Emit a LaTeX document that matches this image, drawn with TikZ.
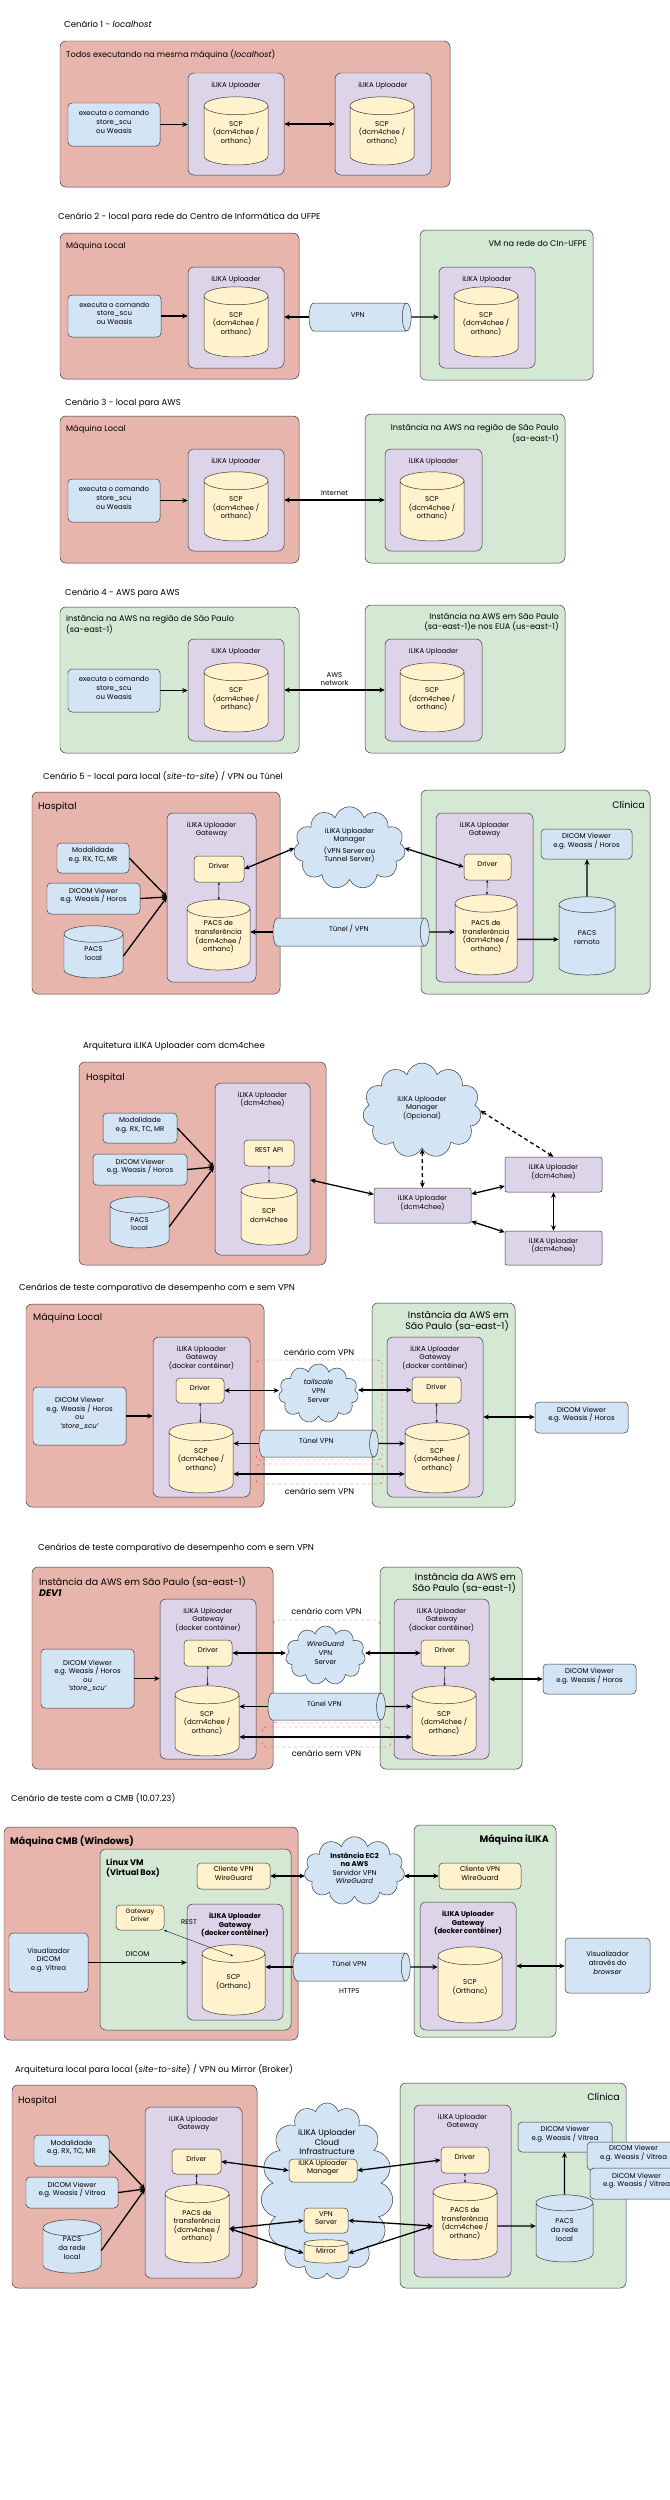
\documentclass[tikz,border=0pt]{standalone}
\usepackage{fontspec}
\setmainfont{Poppins}
\usepackage{tikz}
\usetikzlibrary{shapes.geometric, shapes.symbols, arrows.meta, positioning, fit}

\definecolor{zonered}{HTML}{E8B5AD}
\definecolor{zonegreen}{HTML}{D5E8D4}
\definecolor{clientblue}{HTML}{D3E4F5}
\definecolor{upviolet}{HTML}{DDD4EA}
\definecolor{modyellow}{HTML}{FFF2CC}
\definecolor{linegray}{HTML}{3A3A3A}

\newcommand{\fnttitle}{\fontsize{8.6}{10}\selectfont}
\newcommand{\fntzone}{\fontsize{8.2}{9.8}\selectfont}
\newcommand{\fntbig}{\fontsize{9.5}{11.4}\selectfont}
\newcommand{\fntbox}{\fontsize{7}{8.6}\selectfont}
\newcommand{\fntsmall}{\fontsize{6.4}{7.6}\selectfont}

\tikzstyle{title} = [anchor=west, inner sep=0pt, font=\fnttitle]
\tikzstyle{zonelabel} = [inner sep=0pt, font=\fntzone, align=left]
\tikzstyle{biglabel} = [inner sep=0pt, font=\fntbig, align=left]
\tikzstyle{uplabel} = [inner sep=0pt, font=\fntbox, align=center]
\tikzstyle{zone} = [rectangle, rounded corners=6pt, draw=linegray, line width=0.5pt, inner sep=0pt]
\tikzstyle{redzone} = [zone, fill=zonered]
\tikzstyle{greenzone} = [zone, fill=zonegreen]
\tikzstyle{uploader} = [zone, fill=upviolet]
\tikzstyle{client} = [rectangle, rounded corners=4pt, draw=linegray, line width=0.5pt, fill=clientblue, inner sep=0pt, align=center, font=\fntbox]
\tikzstyle{module} = [client, fill=modyellow]
\tikzstyle{peer} = [client, rounded corners=2pt, fill=upviolet]
% fitted box = body; the top cap adds two radii, the bottom one radius
\tikzstyle{db} = [cylinder, shape border rotate=90, aspect=0.28, draw=linegray, line width=0.5pt, fill=modyellow, inner sep=0pt, align=center, font=\fntbox]
\tikzstyle{pacs} = [db, fill=clientblue]
\tikzstyle{tunnel} = [cylinder, aspect=0.32, draw=linegray, line width=0.5pt, fill=clientblue, inner sep=0pt, align=center, font=\fntbox]
% the puffs come round the fitted box
\tikzstyle{manager} = [cloud, cloud puffs=11, cloud ignores aspect, draw=linegray, line width=0.5pt, fill=clientblue, inner sep=0pt, align=center, font=\fntbox]
\tikzstyle{scenario} = [rectangle, rounded corners=4pt, draw=red!85, dashed, line width=0.4pt, inner sep=0pt]
\tikzstyle{arrow} = [line width=1.3pt, ->, >={Stealth[length=5.5pt, width=5pt]}]
\tikzstyle{biarrow} = [arrow, <->]
\tikzstyle{thinarrow} = [line width=0.35pt, <->, >={Stealth[length=2.5pt, width=2.2pt]}]

\begin{document}
\begin{tikzpicture}[x=1bp, y=-1bp]
        \path[use as bounding box, fill=white] (0,0) rectangle (670,2500);

        % cenario 1
        \node[title] (t1) at (64,24) {Cenário 1 - \textit{localhost}};
        \node[redzone, fit={(60,41) (450,187)}] (m1) {};
        \node[zonelabel, anchor=north west] (m1l) at (66,50) {Todos executando na mesma máquina (\textit{localhost})};
        \node[client, fit={(68,103) (160,146)}] (cmd1) {executa o comando\\store\_scu\\ou Weasis};
        \node[uploader, fit={(188,73) (284,175)}] (u1a) {};
        \node[uplabel, below=9pt of u1a.north] (u1al) {iLIKA Uploader};
        \node[db, fit={(204,115) (268,156)}] (scp1a) {SCP\\(dcm4chee /\\orthanc)};
        \node[uploader, fit={(335,73) (431,175)}] (u1b) {};
        \node[uplabel, below=9pt of u1b.north] (u1bl) {iLIKA Uploader};
        \node[db, fit={(350,115) (414,156)}] (scp1b) {SCP\\(dcm4chee /\\orthanc)};
        \draw[arrow] (cmd1) -- (cmd1 -| u1a.west);
        \draw[biarrow] (u1a) -- (u1b);

        % cenario 2
        \node[title] (t2) at (58,217) {Cenário 2 - local para rede do Centro de Informática da UFPE};
        \node[redzone, fit={(60,233) (299,379)}] (m2) {};
        \node[zonelabel, anchor=north west] (m2l) at (66,242) {Máquina Local};
        \node[greenzone, fit={(420,230) (593,380)}] (g2) {};
        \node[zonelabel, anchor=north east] (g2l) at (587,240) {VM na rede do CIn-UFPE};
        \node[client, fit={(68,295) (161,337)}] (cmd2) {executa o comando\\store\_scu\\ou Weasis};
        \node[uploader, fit={(188,267) (284,368)}] (u2a) {};
        \node[uplabel, below=9pt of u2a.north] (u2al) {iLIKA Uploader};
        \node[db, fit={(204,305) (268,348)}] (scp2a) {SCP\\(dcm4chee /\\orthanc)};
        \node[uploader, fit={(439,267) (535,368)}] (u2b) {};
        \node[uplabel, below=9pt of u2b.north] (u2bl) {iLIKA Uploader};
        \node[db, fit={(454,305) (518,348)}] (scp2b) {SCP\\(dcm4chee /\\orthanc)};
        \node[tunnel, fit={(313.5,303) (402,331)}] (vpn2) {VPN};
        \draw[arrow] (cmd2) -- (cmd2 -| u2a.west);
        \draw[arrow] (vpn2) -- (vpn2 -| u2a.east);
        \draw[arrow] (vpn2) -- (vpn2 -| u2b.west);

        % cenario 3
        \node[title] (t3) at (65,403) {Cenário 3 - local para AWS};
        \node[redzone, fit={(60,416) (299,563)}] (m3) {};
        \node[zonelabel, anchor=north west] (m3l) at (66,425) {Máquina Local};
        \node[greenzone, fit={(365,414) (565,563)}] (g3) {};
        \node[zonelabel, anchor=north east, align=right] (g3l) at (559,424) {Instância na AWS na região de São Paulo\\(sa-east-1)};
        \node[client, fit={(68,479) (160,522)}] (cmd3) {executa o comando\\store\_scu\\ou Weasis};
        \node[uploader, fit={(188,449) (284,551)}] (u3a) {};
        \node[uplabel, below=9pt of u3a.north] (u3al) {iLIKA Uploader};
        \node[db, fit={(204,490) (268,532)}] (scp3a) {SCP\\(dcm4chee /\\orthanc)};
        \node[uploader, fit={(385,449) (482,551)}] (u3b) {};
        \node[uplabel, below=9pt of u3b.north] (u3bl) {iLIKA Uploader};
        \node[db, fit={(400,490) (464,532)}] (scp3b) {SCP\\(dcm4chee /\\orthanc)};
        \draw[arrow] (cmd3) -- (cmd3 -| u3a.west);
        \draw[biarrow] (u3a) -- node[above, font=\fntbox] {Internet} (u3b);

        % cenario 4
        \node[title] (t4) at (65,593) {Cenário 4 - AWS para AWS};
        \node[greenzone, fit={(60,607) (299,753)}] (g4a) {};
        \node[zonelabel, anchor=north west] (g4al) at (66,615) {Instância na AWS na região de São Paulo\\(sa-east-1)};
        \node[greenzone, fit={(365,605) (565,753)}] (g4b) {};
        \node[zonelabel, anchor=north east, align=right] (g4bl) at (559,613) {Instância na AWS em São Paulo\\(sa-east-1)e nos EUA (us-east-1)};
        \node[client, fit={(68,669) (160,712)}] (cmd4) {executa o comando\\store\_scu\\ou Weasis};
        \node[uploader, fit={(188,639) (284,741)}] (u4a) {};
        \node[uplabel, below=9pt of u4a.north] (u4al) {iLIKA Uploader};
        \node[db, fit={(204,681) (268,723)}] (scp4a) {SCP\\(dcm4chee /\\orthanc)};
        \node[uploader, fit={(385,639) (482,741)}] (u4b) {};
        \node[uplabel, below=9pt of u4b.north] (u4bl) {iLIKA Uploader};
        \node[db, fit={(400,681) (464,723)}] (scp4b) {SCP\\(dcm4chee /\\orthanc)};
        \draw[arrow] (cmd4) -- (cmd4 -| u4a.west);
        \draw[biarrow] (u4a) -- node[above, font=\fntbox, align=center] {AWS\\network} (u4b);

        % cenario 5
        \node[title] (t5) at (43,777) {Cenário 5 - local para local (\textit{site-to-site}) / VPN ou Túnel};
        \node[redzone, fit={(32,792) (280,994)}] (h5) {};
        \node[biglabel, anchor=north west] (h5l) at (38,802) {Hospital};
        \node[greenzone, fit={(421,790) (650,994)}] (c5) {};
        \node[biglabel, anchor=north east] (c5l) at (645,801) {Clínica};
        \node[uploader, fit={(167,813) (256,982)}] (gw5a) {};
        \node[uplabel, below=9pt of gw5a.north] (gw5al) {iLIKA Uploader\\Gateway};
        \node[module, fit={(194,856) (244,882)}] (drv5a) {Driver};
        \node[db, fit={(187,917.6) (250,961.2)}] (pacs5a) {PACS de\\transferência\\(dcm4chee /\\orthanc)};
        \node[client, fit={(57,843) (129,873)}] (mod5) {Modalidade\\e.g. RX, TC, MR};
        \node[client, fit={(47,883) (140,914)}] (view5) {DICOM Viewer\\e.g. Weasis / Horos};
        \node[pacs, fit={(64,942.5) (123,969.7)}] (local5) {PACS\\local};
        \coordinate (in5) at (167,897);
        \draw[arrow] (mod5.east) -- (in5);
        \draw[arrow] (view5.east) -- (in5);
        \draw[arrow] (local5.east) -- (in5);
        \draw[thinarrow] (drv5a) -- (pacs5a);
        \node[manager, fit={(313.4,825.7) (385.6,870.3)}] (mgr5) {iLIKA Uploader\\Manager\\[3pt](VPN Server ou\\Tunnel Server)};
        \node[tunnel, fit={(277.5,918) (420,946)}] (tun5) {Túnel / VPN};
        \node[uploader, fit={(436,813) (533,982)}] (gw5b) {};
        \node[uplabel, below=9pt of gw5b.north] (gw5bl) {iLIKA Uploader\\Gateway};
        \node[module, fit={(464,854) (511,880)}] (drv5b) {Driver};
        \node[db, fit={(455,912.4) (517,966.3)}] (pacs5b) {PACS de\\transferência\\(dcm4chee /\\orthanc)};
        \node[client, fit={(541,829) (632,859)}] (view5b) {DICOM Viewer\\e.g. Weasis / Horos};
        \node[pacs, fit={(559,912.7) (615,967.2)}] (remote5) {PACS\\remoto};
        \draw[biarrow] (mgr5.west) -- (drv5a.east);
        \draw[biarrow] (mgr5.east) -- (drv5b.west);
        \draw[arrow] (tun5) -- (tun5 -| pacs5a.east);
        \draw[arrow] (tun5) -- (tun5 -| pacs5b.west);
        \draw[thinarrow] (drv5b) -- (pacs5b);
        \draw[arrow] (pacs5b) -- (pacs5b -| remote5.west);
        \draw[arrow] (remote5) -- (remote5 |- view5b.south);

        % arquitetura dcm4chee
        \node[title] (t6) at (83,1046) {Arquitetura iLIKA Uploader com dcm4chee};
        \node[redzone, fit={(79,1062) (326,1265)}] (h6) {};
        \node[biglabel, anchor=north west] (h6l) at (86,1073) {Hospital};
        \node[uploader, fit={(215,1083) (310,1255)}] (up6) {};
        \node[uplabel, below=9pt of up6.north] (up6l) {iLIKA Uploader\\(dcm4chee)};
        \node[module, fit={(244,1140) (294,1166)}] (api6) {REST API};
        \node[db, fit={(241,1198.7) (297,1237.2)}] (scp6) {SCP\\dcm4chee};
        \node[client, fit={(103,1113) (177,1143)}] (mod6) {Modalidade\\e.g. RX, TC, MR};
        \node[client, fit={(93,1154) (187,1185)}] (view6) {DICOM Viewer\\e.g. Weasis / Horos};
        \node[pacs, fit={(110,1213.5) (169,1239.7)}] (local6) {PACS\\local};
        \coordinate (in6) at (214,1167);
        \draw[arrow] (mod6.east) -- (in6);
        \draw[arrow] (view6.east) -- (in6);
        \draw[arrow] (local6.east) -- (in6);
        \draw[thinarrow] (api6) -- (scp6);
        \node[manager, fit={(384.3,1084) (459.7,1137)}] (mgr6) {iLIKA Uploader\\Manager\\(Opcional)};
        \node[peer, fit={(374,1188) (471,1223)}] (node6) {iLIKA Uploader\\(dcm4chee)};
        \node[peer, fit={(505,1157) (602,1192)}] (peer6a) {iLIKA Uploader\\(dcm4chee)};
        \node[peer, fit={(505,1231) (602,1265)}] (peer6b) {iLIKA Uploader\\(dcm4chee)};
        \draw[biarrow] (up6) -- (node6);
        \draw[biarrow, dash pattern=on 4pt off 3pt] (mgr6) -- (node6);
        \draw[biarrow, dash pattern=on 4pt off 3pt] (mgr6.east) -- (peer6a.north);
        \draw[biarrow] (node6) -- (peer6a);
        \draw[biarrow] (node6) -- (peer6b);
        \draw[biarrow] (peer6a) -- (peer6b);

        % teste com e sem VPN (maquina local)
        \node[title] (t7) at (19,1288) {Cenários de teste comparativo de desempenho com e sem VPN};
        \node[redzone, fit={(26,1304) (264,1507)}] (l7) {};
        \node[biglabel, anchor=north west] (l7l) at (33,1313) {Máquina Local};
        \node[greenzone, fit={(372,1303) (515,1507)}] (aws7) {};
        \node[biglabel, anchor=north east, align=right] (aws7l) at (509,1311) {Instância da AWS em\\São Paulo (sa-east-1)};
        \node[scenario, fit={(256,1360) (382,1460)}] (vpn7) {};
        \node[scenario, fit={(256,1464) (383,1484)}] (novpn7) {};
        \node[zonelabel, above=4pt of vpn7] (vpn7l) {cenário com VPN};
        \node[zonelabel, below=4pt of novpn7] (novpn7l) {cenário sem VPN};
        \node[uploader, fit={(153,1337) (250,1497)}] (gw7a) {};
        \node[uplabel, below=9pt of gw7a.north] (gw7al) {iLIKA Uploader\\Gateway\\(docker contêiner)};
        \node[module, fit={(176,1378) (224,1403)}] (drv7a) {Driver};
        \node[db, fit={(169,1441) (233,1484)}] (scp7a) {SCP\\(dcm4chee /\\orthanc)};
        \node[client, fit={(33,1387) (126,1445)}] (view7a) {DICOM Viewer\\e.g. Weasis / Horos\\ou\\\textit{`store\_scu'}};
        \node[manager, fit={(292.6,1377.6) (344.4,1409.4)}] (vpns7) {\textit{tailscale}\\VPN\\Server};
        \node[tunnel, fit={(263.3,1430) (369.4,1457)}] (tun7) {Túnel VPN};
        \node[uploader, fit={(387,1337) (483,1497)}] (gw7b) {};
        \node[uplabel, below=9pt of gw7b.north] (gw7bl) {iLIKA Uploader\\Gateway\\(docker contêiner)};
        \node[module, fit={(412,1377) (461,1403)}] (drv7b) {Driver};
        \node[db, fit={(405,1441) (469,1484)}] (scp7b) {SCP\\(dcm4chee /\\orthanc)};
        \node[client, fit={(535,1402) (628,1433)}] (view7b) {DICOM Viewer\\e.g. Weasis / Horos};
        \draw[arrow] (view7a) -- (view7a -| gw7a.west);
        \draw[biarrow] (drv7a) -- (drv7a -| vpns7.west);
        \draw[biarrow] (drv7b) -- (drv7b -| vpns7.east);
        \draw[thinarrow] (drv7a) -- (scp7a);
        \draw[thinarrow] (drv7b) -- (scp7b);
        \draw[arrow] (tun7) -- (tun7 -| scp7a.east);
        \draw[arrow] (tun7) -- (tun7 -| scp7b.west);
        \draw[biarrow] (scp7a.east |- novpn7) -- (scp7b.west |- novpn7);
        \draw[biarrow] (gw7b) -- (gw7b -| view7b.west);

        % teste com e sem VPN (DEV1)
        \node[title] (t8) at (38,1548) {Cenários de teste comparativo de desempenho com e sem VPN};
        \node[scenario, fit={(273,1620) (380,1723)}] (vpn8) {};
        \node[redzone, fit={(32,1567) (273,1769)}] (l8) {};
        \node[biglabel, anchor=north west] (l8l) at (39,1576) {Instância da AWS em São Paulo (sa-east-1)\\\textbf{\textit{DEV1}}};
        \node[greenzone, fit={(380,1567) (522,1769)}] (aws8) {};
        \node[biglabel, anchor=north east, align=right] (aws8l) at (516,1573) {Instância da AWS em\\São Paulo (sa-east-1)};
        \node[scenario, fit={(262,1727) (391,1747)}] (novpn8) {};
        \node[zonelabel, above=5pt of vpn8] (vpn8l) {cenário com VPN};
        \node[zonelabel, below=3pt of novpn8] (novpn8l) {cenário sem VPN};
        \node[uploader, fit={(160,1599) (256,1759)}] (gw8a) {};
        \node[uplabel, below=9pt of gw8a.north] (gw8al) {iLIKA Uploader\\Gateway\\(docker contêiner)};
        \node[module, fit={(184,1640) (232,1666)}] (drv8a) {Driver};
        \node[db, fit={(175,1704) (239,1747)}] (scp8a) {SCP\\(dcm4chee /\\orthanc)};
        \node[client, fit={(41,1649) (134,1708)}] (view8a) {DICOM Viewer\\e.g. Weasis / Horos\\ou\\\textit{`store\_scu'}};
        \node[manager, fit={(299.6,1639.6) (351.4,1671.4)}] (vpns8) {\textit{WireGuard}\\VPN\\Server};
        \node[tunnel, fit={(272.3,1693) (376.4,1720)}] (tun8) {Túnel VPN};
        \node[uploader, fit={(394,1599) (489,1759)}] (gw8b) {};
        \node[uplabel, below=9pt of gw8b.north] (gw8bl) {iLIKA Uploader\\Gateway\\(docker contêiner)};
        \node[module, fit={(421,1640) (469,1666)}] (drv8b) {Driver};
        \node[db, fit={(412,1704) (476,1747)}] (scp8b) {SCP\\(dcm4chee /\\orthanc)};
        \node[client, fit={(543,1664) (636,1694)}] (view8b) {DICOM Viewer\\e.g. Weasis / Horos};
        \draw[arrow] (view8a) -- (view8a -| gw8a.west);
        \draw[biarrow] (drv8a) -- (drv8a -| vpns8.west);
        \draw[biarrow] (drv8b) -- (drv8b -| vpns8.east);
        \draw[thinarrow] (drv8a) -- (scp8a);
        \draw[thinarrow] (drv8b) -- (scp8b);
        \draw[arrow] (tun8) -- (tun8 -| scp8a.east);
        \draw[arrow] (tun8) -- (tun8 -| scp8b.west);
        \draw[biarrow] (scp8a.east |- novpn8) -- (scp8b.west |- novpn8);
        \draw[biarrow] (gw8b) -- (gw8b -| view8b.west);

        % teste com a CMB
        \node[title] (t9) at (11,1798) {Cenário de teste com a CMB (10.07.23)};
        \node[redzone, fit={(4,1827) (298,2040)}] (cmb9) {};
        \node[biglabel, anchor=north west, font=\fntbig\bfseries] (cmb9l) at (10,1836) {Máquina CMB (Windows)};
        \node[greenzone, fit={(100,1849) (291,2030)}] (vm9) {};
        \node[zonelabel, anchor=north west, font=\fntzone\bfseries] (vm9l) at (106,1859) {Linux VM\\(Virtual Box)};
        \node[greenzone, fit={(414,1825) (556,2037)}] (ilika9) {};
        \node[biglabel, anchor=north east, font=\fntbig\bfseries] (ilika9l) at (549,1834) {Máquina iLIKA};
        \node[module, fit={(197,1863) (270,1889)}] (wg9a) {Cliente VPN\\WireGuard};
        \node[module, font=\fntsmall, fit={(116,1905) (164,1930)}] (drv9) {Gateway\\Driver};
        \node[uploader, fit={(187,1904) (283,2020)}] (gw9a) {};
        \node[uplabel, font=\fntbox\bfseries, below=9pt of gw9a.north] (gw9al) {iLIKA Uploader\\Gateway\\(docker contêiner)};
        \node[db, fit={(202,1962.6) (265,2006.2)}] (scp9a) {SCP\\(Orthanc)};
        \node[client, fit={(9,1933) (88,1992)}] (view9a) {Visualizador\\DICOM\\e.g. Vitrea};
        \coordinate (rest9) at (233,1956);
        \draw[thinarrow] (rest9) -- (drv9.south east);
        \node[uplabel] (rest9l) at (189,1922) {REST};
        \draw[arrow] (view9a) -- node[above=2pt, font=\fntbox] {DICOM} (view9a -| gw9a.west);
        \node[manager, fit={(321.6,1853.1) (387.4,1888.9)}] (ec9) {\textbf{Instância EC2}\\\textbf{na AWS}\\Servidor VPN\\\textit{WireGuard}};
        \node[tunnel, fit={(297.5,1953) (401,1981)}] (tun9) {Túnel VPN};
        \node[uplabel, below=7pt of tun9] (https9) {HTTPS};
        \node[module, fit={(439,1863) (521,1889)}] (wg9b) {Cliente VPN\\WireGuard};
        \node[uploader, fit={(420,1902) (516,2030)}] (gw9b) {};
        \node[uplabel, font=\fntbox\bfseries, below=9pt of gw9b.north] (gw9bl) {iLIKA Uploader\\Gateway\\(docker contêiner)};
        \node[db, fit={(438,1965) (502,2014)}] (scp9b) {SCP\\(Orthanc)};
        \node[client, fit={(565,1938) (650,1993)}] (view9b) {Visualizador\\através do\\\textit{browser}};
        \draw[biarrow] (wg9a) -- (wg9a -| ec9.west);
        \draw[biarrow] (wg9b) -- (wg9b -| ec9.east);
        \draw[arrow] (tun9) -- (tun9 -| scp9a.east);
        \draw[arrow] (tun9) -- (tun9 -| scp9b.west);
        \draw[biarrow] (gw9b) -- (gw9b -| view9b.west);

        % arquitetura VPN ou Mirror
        \node[title] (t10) at (15,2070) {Arquitetura local para local (\textit{site-to-site}) / VPN ou Mirror (Broker)};
        \node[redzone, fit={(12,2085) (257,2288)}] (h10) {};
        \node[biglabel, anchor=north west] (h10l) at (18,2096) {Hospital};
        \node[greenzone, fit={(400,2083) (626,2288)}] (c10) {};
        \node[biglabel, anchor=north east] (c10l) at (620,2093) {Clínica};
        \node[uploader, fit={(145,2107) (242,2278)}] (gw10a) {};
        \node[uplabel, below=9pt of gw10a.north] (gw10al) {iLIKA Uploader\\Gateway};
        \node[module, fit={(172,2149) (221,2174)}] (drv10a) {Driver};
        \node[db, fit={(165,2203) (229,2254)}] (pacs10a) {PACS de\\transferência\\(dcm4chee /\\orthanc)};
        \node[client, fit={(34,2135) (109,2166)}] (mod10) {Modalidade\\e.g. RX, TC, MR};
        \node[client, fit={(26,2177) (118,2208)}] (view10) {DICOM Viewer\\e.g. Weasis / Vitrea};
        \node[pacs, fit={(43,2236.2) (101,2264.9)}] (local10) {PACS\\da rede\\local};
        \coordinate (in10) at (145,2189);
        \draw[arrow] (mod10.east) -- (in10);
        \draw[arrow] (view10.east) -- (in10);
        \draw[arrow] (local10.east) -- (in10);
        \draw[thinarrow] (drv10a) -- (pacs10a);
        \node[manager, cloud puffs=15, fit={(288.7,2133.7) (365.3,2249.3)}] (cloud10) {};
        \node[uplabel, font=\fntzone] (cloud10l) at (327,2142) {iLIKA Uploader\\Cloud\\Infrastructure};
        \node[module, fit={(289,2159) (357,2182)}] (mgr10) {iLIKA Uploader\\Manager};
        \node[module, fit={(304,2208) (348,2233)}] (vpns10) {VPN\\Server};
        \node[db, aspect=0.16, fit={(304,2247) (348,2259.5)}] (mirror10) {Mirror};
        \node[uploader, fit={(414,2105) (511,2277)}] (gw10b) {};
        \node[uplabel, below=9pt of gw10b.north] (gw10bl) {iLIKA Uploader\\Gateway};
        \node[module, fit={(441,2147) (489,2173)}] (drv10b) {Driver};
        \node[db, fit={(433,2201) (497,2251)}] (pacs10b) {PACS de\\transferência\\(dcm4chee /\\orthanc)};
        \node[client, fit={(518,2122) (612,2152)}] (dv10a) {DICOM Viewer\\e.g. Weasis / Vitrea};
        \node[client, fit={(587,2142) (680,2170)}] (dv10b) {DICOM Viewer\\e.g. Weasis / Vitrea};
        \node[client, fit={(590,2168) (683,2199)}] (dv10c) {DICOM Viewer\\e.g. Weasis / Vitrea};
        \node[pacs, fit={(536,2211) (593,2254)}] (remote10) {PACS\\da rede\\local};
        \draw[biarrow] (drv10a.east) -- (mgr10.west);
        \draw[biarrow] (mgr10.east) -- (drv10b.west);
        \draw[biarrow] (pacs10a.east) -- (vpns10.west);
        \draw[biarrow] (pacs10a.east) -- (mirror10.west);
        \draw[biarrow] (vpns10.east) -- (pacs10b.west);
        \draw[biarrow] (mirror10.east) -- (pacs10b.west);
        \draw[thinarrow] (drv10b) -- (pacs10b);
        \draw[arrow] (pacs10b) -- (pacs10b -| remote10.west);
        \draw[arrow] (remote10) -- (remote10 |- dv10a.south);
\end{tikzpicture}
\end{document}
